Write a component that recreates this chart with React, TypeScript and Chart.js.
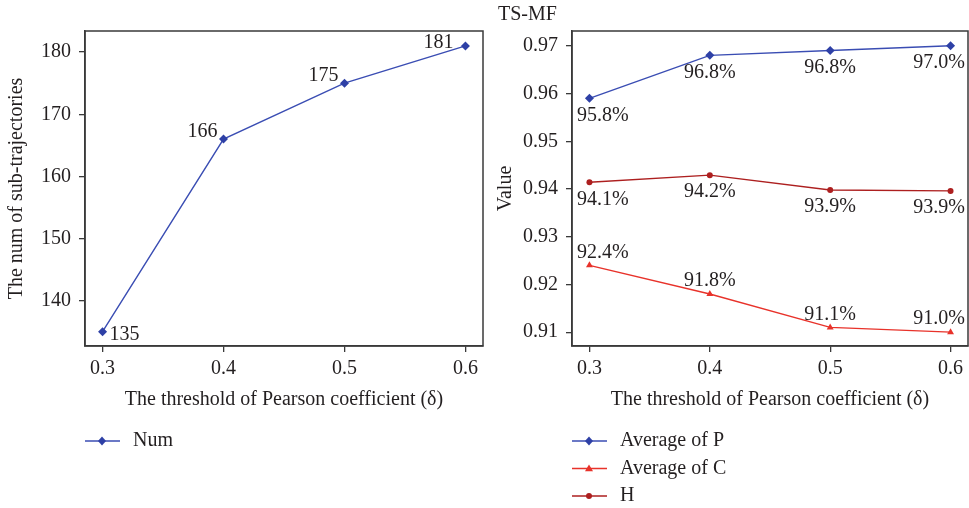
import React, { useEffect, useRef } from "react";
import { Chart, registerables } from "chart.js";

Chart.register(...registerables);

// ---- data ----
const thresholds = [0.3, 0.4, 0.5, 0.6];
const xTickLabels = ["0.3", "0.4", "0.5", "0.6"];

const numValues = [135, 166, 175, 181];
const numLabels = ["135", "166", "175", "181"];

const avgP = [0.959, 0.968, 0.969, 0.97];
const avgPLabels = ["95.8%", "96.8%", "96.8%", "97.0%"];
const avgC = [0.924, 0.918, 0.911, 0.91];
const avgCLabels = ["92.4%", "91.8%", "91.1%", "91.0%"];
const hValues = [0.9414, 0.9429, 0.9398, 0.9396];
const hLabels = ["94.1%", "94.2%", "93.9%", "93.9%"];

const leftYTicks = [140, 150, 160, 170, 180];
const rightYTicks = [0.91, 0.92, 0.93, 0.94, 0.95, 0.96, 0.97];

const FONT = "'Liberation Serif', 'DejaVu Serif', serif";
const FS = 20;
const TEXT = "#231f20";
const AXIS = "#3a3a3a";
const BLUE = "#2e40a6";
const RED = "#e8322a";
const DARKRED = "#ad1f1f";

type LabelMode = "num" | "below" | "above";

const makePlugin = (title: string | null, labelModes: LabelMode[], labelSets: string[][]) => ({
  id: "custom",
  afterDatasetsDraw(chart: any) {
    const ctx = chart.ctx as CanvasRenderingContext2D;
    const area = chart.chartArea;
    ctx.save();
    // full box
    ctx.strokeStyle = AXIS;
    ctx.lineWidth = 1.5;
    ctx.strokeRect(area.left, area.top, area.right - area.left, area.bottom - area.top);

    ctx.font = `${FS}px ${FONT}`;
    ctx.fillStyle = TEXT;
    chart.data.datasets.forEach((ds: any, di: number) => {
      const meta = chart.getDatasetMeta(di);
      const labels = labelSets[di];
      const mode = labelModes[di];
      meta.data.forEach((pt: any, i: number) => {
        const text = labels[i];
        const w = ctx.measureText(text).width;
        ctx.textBaseline = "middle";
        if (mode === "num") {
          if (i === 0) {
            ctx.textAlign = "left";
            ctx.fillText(text, pt.x + 7, pt.y + 3);
          } else {
            ctx.textAlign = "right";
            ctx.fillText(text, pt.x - (i === 3 ? 12 : 6), pt.y - (i === 3 ? 3 : 7));
          }
        } else {
          let cx = pt.x;
          cx = Math.max(cx, area.left + 5 + w / 2);
          cx = Math.min(cx, area.right - 3 - w / 2);
          ctx.textAlign = "center";
          const cy = mode === "below" ? pt.y + 17 : pt.y - 13;
          ctx.fillText(text, cx, cy);
        }
      });
    });

    // legend
    const x0 = area.left;
    let y = area.bottom + 95;
    chart.data.datasets.forEach((ds: any) => {
      ctx.strokeStyle = ds.borderColor;
      ctx.lineWidth = 1.5;
      ctx.beginPath();
      ctx.moveTo(x0, y);
      ctx.lineTo(x0 + 35, y);
      ctx.stroke();
      ctx.fillStyle = ds.pointBackgroundColor;
      const cx = x0 + 17, r = 4;
      ctx.beginPath();
      if (ds.pointStyle === "rectRot") {
        ctx.moveTo(cx, y - r - 0.5); ctx.lineTo(cx + r, y); ctx.lineTo(cx, y + r + 0.5); ctx.lineTo(cx - r, y);
      } else if (ds.pointStyle === "triangle") {
        ctx.moveTo(cx, y - r); ctx.lineTo(cx + r, y + r * 0.7); ctx.lineTo(cx - r, y + r * 0.7);
      } else {
        ctx.arc(cx, y, 3, 0, Math.PI * 2);
      }
      ctx.closePath();
      ctx.fill();
      ctx.fillStyle = TEXT;
      ctx.textAlign = "left";
      ctx.textBaseline = "middle";
      ctx.fillText(ds.label, x0 + 48, y);
      y += 27.5;
    });

    if (title) {
      ctx.textAlign = "left";
      ctx.textBaseline = "middle";
      ctx.fillText(title, 14, 15);
    }
    ctx.restore();
  },
});

const baseOptions = (yMin: number, yMax: number, yTicks: number[], yTitle: string, yWidth: number, yTitlePad: number, yFmt: (v: number) => string) => ({
  responsive: false,
  animation: false as const,
  layout: { autoPadding: false, padding: { top: 31, right: 1, bottom: 93, left: 0 } },
  plugins: { legend: { display: false }, tooltip: { enabled: false } },
  scales: {
    x: {
      type: "linear" as const,
      min: 0.2855,
      max: 0.6145,
      afterBuildTicks: (scale: any) => {
        scale.ticks = thresholds.map((v) => ({ value: v }));
      },
      afterFit: (scale: any) => {
        scale.height = 69;
        scale.paddingRight = 0;
        scale.paddingLeft = 0;
      },
      ticks: {
        callback: (v: number) => {
          const i = thresholds.findIndex((t) => Math.abs(t - v) < 1e-6);
          return i >= 0 ? xTickLabels[i] : "";
        },
        font: { family: FONT, size: FS },
        color: TEXT,
        padding: 5,
        maxRotation: 0,
      },
      grid: { drawOnChartArea: false, drawTicks: true, tickLength: 6, color: AXIS, lineWidth: 1.3 },
      border: { color: AXIS, width: 1.5 },
      title: {
        display: true,
        text: "The threshold of Pearson coefficient (δ)",
        font: { family: FONT, size: FS },
        color: TEXT,
        padding: 3,
      },
    },
    y: {
      type: "linear" as const,
      min: yMin,
      max: yMax,
      afterBuildTicks: (scale: any) => {
        scale.ticks = yTicks.map((v) => ({ value: v }));
      },
      afterFit: (scale: any) => {
        scale.width = yWidth;
        scale.paddingTop = 0;
        scale.paddingBottom = 0;
      },
      ticks: {
        callback: (v: number) => yFmt(v),
        font: { family: FONT, size: FS },
        color: TEXT,
        padding: 8,
      },
      grid: { drawOnChartArea: false, drawTicks: true, tickLength: 6, color: AXIS, lineWidth: 1.3 },
      border: { color: AXIS, width: 1.5 },
      title: {
        display: true,
        text: yTitle,
        font: { family: FONT, size: FS },
        color: TEXT,
        padding: yTitlePad,
      },
    },
  },
});

const pointsOf = (vals: number[]) => thresholds.map((x, i) => ({ x, y: vals[i] }));

const lineDs = (label: string, vals: number[], color: string, pointColor: string, style: string, radius: number) => ({
  label,
  data: pointsOf(vals),
  borderColor: color,
  backgroundColor: pointColor,
  pointBackgroundColor: pointColor,
  pointBorderColor: pointColor,
  pointStyle: style,
  pointRadius: radius,
  pointBorderWidth: 0,
  borderWidth: 1.4,
  tension: 0,
});

export default function App() {
  const leftRef = useRef<HTMLCanvasElement>(null);
  const rightRef = useRef<HTMLCanvasElement>(null);

  useEffect(() => {
    const left = new Chart(leftRef.current!, {
      type: "line",
      data: {
        datasets: [lineDs("Num", numValues, "#3a4db3", BLUE, "rectRot", 4.5)],
      },
      options: baseOptions(132.7, 183.4, leftYTicks, "The num of sub-trajectories", 85, 5, (v) => String(v)) as any,
      plugins: [makePlugin(null, ["num"], [numLabels])],
    });
    const right = new Chart(rightRef.current!, {
      type: "line",
      data: {
        datasets: [
          lineDs("Average of P", avgP, "#3a4db3", BLUE, "rectRot", 4.5),
          lineDs("Average of C", avgC, RED, RED, "triangle", 4),
          lineDs("H", hValues, DARKRED, DARKRED, "circle", 3),
        ],
      },
      options: baseOptions(0.9071, 0.9731, rightYTicks, "Value", 88, 10, (v) => v.toFixed(2)) as any,
      plugins: [makePlugin("TS-MF", ["below", "above", "below"], [avgPLabels, avgCLabels, hLabels])],
    });
    return () => {
      left.destroy();
      right.destroy();
    };
  }, []);

  return (
    <div style={{ position: "fixed", left: 0, top: 0, width: 969, height: 508, background: "#fff" }}>
      <canvas ref={leftRef} width={484} height={508} style={{ position: "absolute", left: 0, top: 0 }} />
      <canvas ref={rightRef} width={485} height={508} style={{ position: "absolute", left: 484, top: 0 }} />
    </div>
  );
}
